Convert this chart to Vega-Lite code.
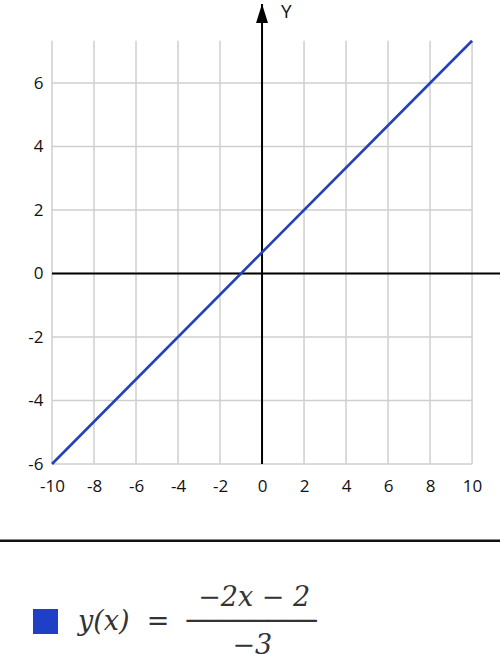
{
  "$schema": "https://vega.github.io/schema/vega-lite/v6.json",
  "width": 448,
  "height": 460,
  "autosize": {"type": "none"},
  "padding": {"left": 52, "top": 4, "right": 0, "bottom": 190},
  "background": "white",
  "config": {
    "view": {"stroke": null},
    "axis": {
      "domain": false,
      "ticks": false,
      "tickSize": 0,
      "grid": false,
      "title": null,
      "labelFont": "Open Sans",
      "labelFontSize": 17,
      "labelColor": "#111",
      "labelFlush": false,
      "labelExpr": "toString(datum.value)"
    }
  },
  "datasets": {
    "vgrid": [{"gx": -10}, {"gx": -8}, {"gx": -6}, {"gx": -4}, {"gx": -2}, {"gx": 0}, {"gx": 2}, {"gx": 4}, {"gx": 6}, {"gx": 8}, {"gx": 10}],
    "hgrid": [{"gy": -6}, {"gy": -4}, {"gy": -2}, {"gy": 0}, {"gy": 2}, {"gy": 4}, {"gy": 6}],
    "fn": [
      {"x": -10, "y": -6, "series": "f"},
      {"x": 10, "y": 7.3333, "series": "f"}
    ],
    "arrow": [{"x": 0, "y": 8.19}],
    "ylab": [{"x": 1.16, "y": 8.24, "label": "Y"}]
  },
  "layer": [
    {
      "data": {"name": "vgrid"},
      "mark": {"type": "rule", "color": "#cfcfcf", "strokeWidth": 1.5},
      "encoding": {
        "x": {
          "field": "gx",
          "type": "quantitative",
          "scale": {"domain": [-10, 11.33], "nice": false, "zero": false},
          "axis": {"values": [-10, -8, -6, -4, -2, 0, 2, 4, 6, 8, 10], "labelPadding": 14, "orient": "bottom"}
        },
        "y": {
          "datum": -6,
          "type": "quantitative",
          "scale": {"domain": [-6, 8.49], "nice": false, "zero": false},
          "axis": {"values": [-6, -4, -2, 0, 2, 4, 6], "labelPadding": 9, "orient": "left"}
        },
        "y2": {"datum": 7.3333}
      }
    },
    {
      "data": {"name": "hgrid"},
      "mark": {"type": "rule", "color": "#cfcfcf", "strokeWidth": 1.5},
      "encoding": {
        "y": {"field": "gy", "type": "quantitative"},
        "x": {"datum": -10},
        "x2": {"datum": 10}
      }
    },
    {
      "data": {"values": [{}]},
      "mark": {"type": "rule", "color": "#000", "strokeWidth": 2},
      "encoding": {"y": {"datum": 0}}
    },
    {
      "data": {"values": [{}]},
      "mark": {"type": "rule", "color": "#000", "strokeWidth": 2},
      "encoding": {"x": {"datum": 0}}
    },
    {
      "data": {"name": "arrow"},
      "mark": {"type": "point", "shape": "M0,-1L-0.63,1L0.63,1Z", "filled": true, "color": "#000", "opacity": 1, "size": 361, "strokeWidth": 0},
      "encoding": {
        "x": {"field": "x", "type": "quantitative"},
        "y": {"field": "y", "type": "quantitative"}
      }
    },
    {
      "data": {"name": "ylab"},
      "mark": {"type": "text", "font": "Open Sans", "fontSize": 19, "color": "#111", "align": "center", "baseline": "middle"},
      "encoding": {
        "x": {"field": "x", "type": "quantitative"},
        "y": {"field": "y", "type": "quantitative"},
        "text": {"field": "label"}
      }
    },
    {
      "data": {"name": "fn"},
      "mark": {"type": "line", "strokeWidth": 2.6},
      "encoding": {
        "x": {"field": "x", "type": "quantitative"},
        "y": {"field": "y", "type": "quantitative"},
        "color": {
          "field": "series",
          "type": "nominal",
          "scale": {"range": ["#2441b8"]},
          "legend": {
            "orient": "none",
            "legendX": -20,
            "legendY": 604,
            "title": null,
            "symbolType": "square",
            "symbolSize": 625,
            "symbolStrokeWidth": 0,
            "symbolOpacity": 1,
            "labelFont": "DejaVu Serif",
            "labelFontStyle": "italic",
            "labelFontSize": 27,
            "labelColor": "#333",
            "labelLimit": 0,
            "labelOffset": 19,
            "labelExpr": "['\u200b\u00a0\u00a0\u00a0\u00a0\u00a0\u00a0\u00a0\u00a0\u00a0\u00a0\u00a0\u00a0\u00a0\u00a0\u22122x\u00a0\u2212\u00a02', 'y(x)\u00a0\u00a0=\u00a0\u00a0\u2500\u2500\u2500\u2500\u2500\u2500\u2500\u2500', '\u200b\u00a0\u00a0\u00a0\u00a0\u00a0\u00a0\u00a0\u00a0\u00a0\u00a0\u00a0\u00a0\u00a0\u00a0\u00a0\u00a0\u00a0\u00a0\u22123']",
            "encode": {
              "symbols": {"update": {"fill": {"value": "#1f3fc6"}, "stroke": {"value": "#1f3fc6"}, "opacity": {"value": 1}}},
              "labels": {"update": {"lineHeight": {"value": 24}, "dy": {"value": -24}}}
            }
          }
        }
      }
    },
    {
      "data": {"values": [{}]},
      "mark": {"type": "rule", "color": "#111", "strokeWidth": 2.5},
      "encoding": {"x": {"datum": -12.48}, "x2": {"datum": 11.33}, "y": {"datum": -8.417}}
    }
  ]
}
